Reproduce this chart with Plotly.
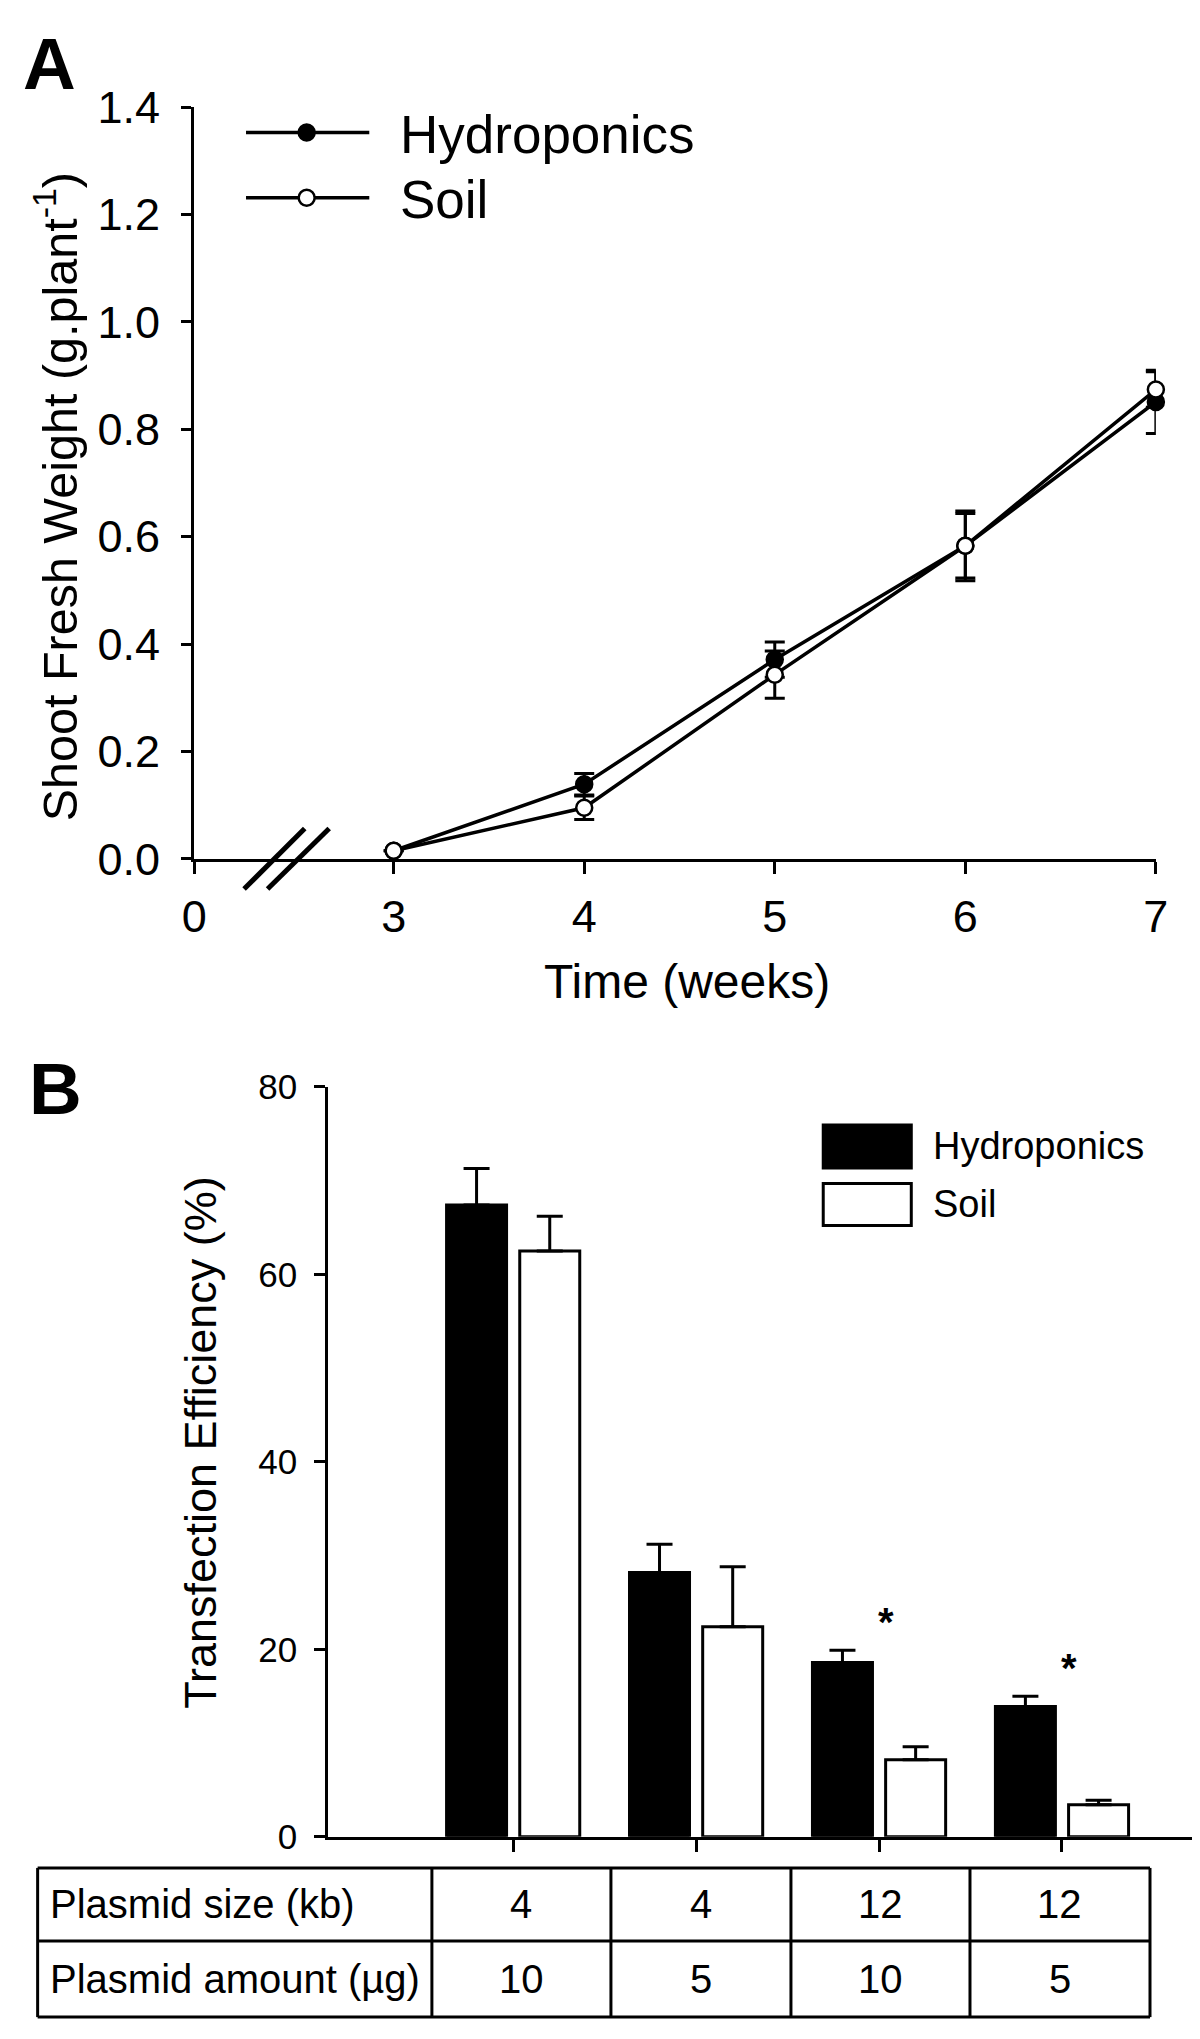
import plotly.graph_objects as go

# ---------------- data ----------------
weeks = [3, 4, 5, 6, 7]
week_tick_labels = ["0", "3", "4", "5", "6", "7"]
hydro_fw = [0.015, 0.139, 0.371, 0.583, 0.851]
hydro_fw_err = [0.0, 0.020, 0.033, 0.065, 0.059]
soil_fw = [0.015, 0.095, 0.343, 0.583, 0.874]
soil_fw_err = [0.0, 0.022, 0.044, 0.060, 0.033]

groups = [1, 2, 3, 4]
hydro_te = [67.4, 28.2, 18.6, 13.9]
hydro_te_err = [3.9, 3.0, 1.3, 1.1]
soil_te = [62.5, 22.4, 8.2, 3.4]
soil_te_err = [3.7, 6.4, 1.4, 0.5]
significant = [False, False, True, True]

plasmid_size = ["4", "4", "12", "12"]
plasmid_amount = ["10", "5", "10", "5"]
row_labels = ["Plasmid size (kb)", "Plasmid amount (µg)"]
series_names = ["Hydroponics", "Soil"]

# ---------------- helpers ----------------
W, H = 1200, 2039
FONT = "Liberation Sans, Arial, Helvetica, sans-serif"


def px(x):
    return x / W


def py(y):
    return 1 - y / H


fig = go.Figure()

# ---------------- Panel A ----------------
for name, ys, es, fill in [
    (series_names[0], hydro_fw, hydro_fw_err, "black"),
    (series_names[1], soil_fw, soil_fw_err, "white"),
]:
    fig.add_trace(go.Scatter(
        x=weeks, y=ys, name=name, mode="lines+markers",
        line=dict(color="black", width=3.5),
        marker=dict(size=16, color=fill, line=dict(color="black", width=2.5)),
        error_y=dict(type="data", array=es, visible=True, color="black",
                     thickness=3, width=10),
        cliponaxis=False, xaxis="x", yaxis="y", showlegend=False,
    ))

# ---------------- Panel B ----------------
for name, ys, es, fill in [
    (series_names[0], hydro_te, hydro_te_err, "black"),
    (series_names[1], soil_te, soil_te_err, "white"),
]:
    fig.add_trace(go.Bar(
        x=groups, y=ys, name=name,
        marker=dict(color=fill, line=dict(color="black", width=3)),
        error_y=dict(type="data", symmetric=False, array=es,
                     arrayminus=[0] * len(es), color="black",
                     thickness=3, width=13),
        xaxis="x2", yaxis="y2", showlegend=False, cliponaxis=False,
    ))

axis_common = dict(showline=True, linecolor="black", linewidth=3,
                   ticks="outside", tickcolor="black", tickwidth=3,
                   showgrid=False, zeroline=False,
                   tickfont=dict(family=FONT, color="black"))

x0_pos = 1.953  # position of the "0" label on the broken time axis
fig.update_layout(
    width=W, height=H,
    margin=dict(l=0, r=0, t=0, b=0),
    paper_bgcolor="white", plot_bgcolor="white",
    showlegend=False,
    barmode="group", bargap=0.2, bargroupgap=0.18,
    xaxis=dict(**axis_common, domain=[px(177), px(1160)],
               range=[x0_pos, 7], tickvals=[x0_pos] + weeks,
               ticktext=week_tick_labels, ticklen=12,
               ticklabelstandoff=4, anchor="y"),
    yaxis=dict(**axis_common, domain=[py(847), py(76)],
               range=[0, 1.4], tickvals=[0, 0.2, 0.4, 0.6, 0.8, 1.0, 1.2, 1.4],
               tickformat=".1f", ticklen=10, ticklabelstandoff=12,
               anchor="x"),
    xaxis2=dict(**axis_common, domain=[px(314), 1.0],
                range=[-0.011, 4.727], tickvals=groups, showticklabels=False,
                ticklen=12, anchor="y2"),
    yaxis2=dict(**axis_common, domain=[py(1850), py(1081)],
                range=[0, 80], tickvals=[0, 20, 40, 60, 80], ticklen=11,
                ticklabelstandoff=10, anchor="x2"),
)
fig.layout.xaxis.tickfont.size = 45
fig.layout.yaxis.tickfont.size = 45
fig.layout.yaxis2.tickfont.size = 35

annotations = []
shapes = []


def txt(x, y, text, size, xanchor="center", bold=False, angle=0, xref="paper", yref="paper"):
    annotations.append(dict(
        x=x, y=y, xref=xref, yref=yref, text=("<b>%s</b>" % text) if bold else text,
        showarrow=False, xanchor=xanchor, yanchor="middle", textangle=angle,
        font=dict(family=FONT, size=size, color="black")))


# Panel labels
txt(px(29), py(31), "A", 73, bold=True)
txt(px(35), py(1083), "B", 73, bold=True)

# Axis titles
txt(px(35), py(476), "Shoot Fresh Weight (g.plant<sup>-1</sup>)", 48.5, angle=-90)
txt(px(681), py(973), "Time (weeks)", 48)
txt(px(184), py(1446), "Transfection Efficiency (%)", 45, angle=-90)

# Axis break marks
for xa, xb in [(228, 290), (252, 315)]:
    shapes.append(dict(type="line", xref="paper", yref="paper",
                       x0=px(xa), y0=py(878), x1=px(xb), y1=py(816),
                       line=dict(color="black", width=5)))

# Legend A (manual)
for i, (name, fill) in enumerate([(series_names[0], "black"), (series_names[1], "white")]):
    yy = [102, 169][i]
    shapes.append(dict(type="line", xref="paper", yref="paper",
                       x0=px(230), x1=px(356), y0=py(yy), y1=py(yy),
                       line=dict(color="black", width=3.5)))
    shapes.append(dict(type="circle", xref="paper", yref="paper",
                       xsizemode="pixel", ysizemode="pixel",
                       xanchor=px(292), yanchor=py(yy),
                       x0=-8, x1=8, y0=-8, y1=8,
                       fillcolor=fill, line=dict(color="black", width=2.5)))
    txt(px(385), py(yy + 2), name, 53, xanchor="left")

# Legend B (manual)
for i, (name, fill) in enumerate([(series_names[0], "black"), (series_names[1], "white")]):
    y0, y1 = [(1120, 1164), (1180, 1223)][i]
    shapes.append(dict(type="rect", xref="paper", yref="paper",
                       x0=px(820), x1=px(910), y0=py(y1), y1=py(y0),
                       fillcolor=fill, line=dict(color="black", width=3)))
    txt(px(930), py((y0 + y1) / 2), name, 38, xanchor="left")

# Significance stars
for g, h, e, s in zip(groups, hydro_te, hydro_te_err, significant):
    if s:
        annotations.append(dict(x=g + 0.04, y=h + e + 3.0, xref="x2", yref="y2",
                                text="<b>*</b>", showarrow=False,
                                xanchor="center", yanchor="middle",
                                font=dict(family=FONT, size=40, color="black")))

# Table under panel B
col_edges = [17, 420, 603, 787, 970, 1154]
row_edges = [1882, 1957, 2035]
for xe in col_edges:
    shapes.append(dict(type="line", xref="paper", yref="paper",
                       x0=px(xe), x1=px(xe), y0=py(row_edges[0]), y1=py(row_edges[-1]),
                       line=dict(color="black", width=3)))
for ye in row_edges:
    shapes.append(dict(type="line", xref="paper", yref="paper",
                       x0=px(col_edges[0]), x1=px(col_edges[-1]), y0=py(ye), y1=py(ye),
                       line=dict(color="black", width=3)))

for r, (label, vals) in enumerate(zip(row_labels, [plasmid_size, plasmid_amount])):
    yc = (row_edges[r] + row_edges[r + 1]) / 2
    txt(px(28), py(yc), label, 40, xanchor="left")
    for c, v in enumerate(vals):
        xc = (col_edges[c + 1] + col_edges[c + 2]) / 2
        txt(px(xc), py(yc), v, 40)

fig.update_layout(annotations=annotations, shapes=shapes)

fig.write_html("out.html")
